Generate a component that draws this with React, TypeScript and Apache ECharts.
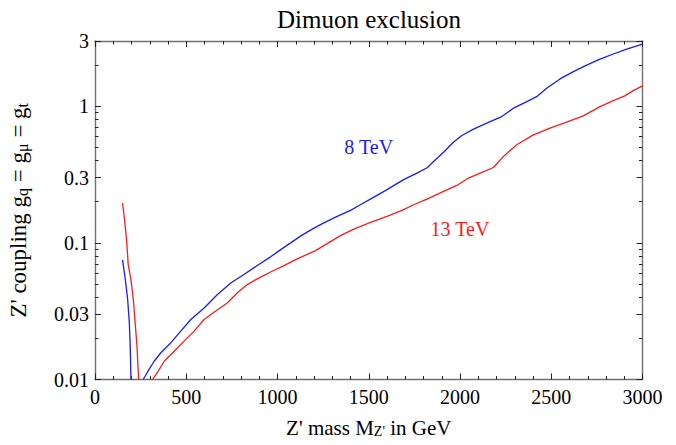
import React, { useEffect, useRef } from 'react';
import * as echarts from 'echarts';

// ---- data (Z' mass in GeV, coupling) ----
const xTickStep = 500;
const xMin = 0;
const xMax = 3000;
const yMin = 0.01;
const yMax = 3;
const yMajorTicks = [0.01, 0.03, 0.1, 0.3, 1, 3];
const yMajorLabels = ['0.01', '0.03', '0.1', '0.3', '1', '3'];
const yMinorTicks = [0.02, 0.04, 0.05, 0.06, 0.07, 0.08, 0.09, 0.2, 0.4, 0.5, 0.6, 0.7, 0.8, 0.9, 2];

const blue8Low: [number, number][] = [
  [151, 0.075], [166, 0.054], [179, 0.0385], [188, 0.026], [193, 0.0176], [197, 0.01],
];
const blue8High: [number, number][] = [
  [264, 0.01], [297, 0.0119], [324, 0.0136], [361, 0.0157], [416, 0.0186], [470, 0.0226],
  [525, 0.0275], [598, 0.0334], [671, 0.0419], [744, 0.0509], [816, 0.0586], [889, 0.0682],
  [962, 0.079], [1010, 0.0877], [1072, 0.1], [1126, 0.112], [1190, 0.126], [1254, 0.14],
  [1327, 0.156], [1400, 0.173], [1454, 0.19], [1509, 0.209], [1600, 0.245], [1691, 0.29],
  [1764, 0.324], [1822, 0.356], [1855, 0.394], [1910, 0.46], [1964, 0.545], [2010, 0.61],
  [2074, 0.68], [2165, 0.772], [2229, 0.84], [2293, 0.967], [2366, 1.081], [2420, 1.175],
  [2475, 1.354], [2548, 1.583], [2621, 1.79], [2694, 2.0], [2767, 2.21], [2840, 2.41],
  [2913, 2.62], [3000, 2.85],
];
const red13Low: [number, number][] = [
  [151, 0.196], [160, 0.156], [173, 0.1056], [182, 0.0693], [197, 0.0538], [210, 0.0385],
  [220, 0.026], [230, 0.0176], [239, 0.01],
];
const red13High: [number, number][] = [
  [315, 0.01], [343, 0.0113], [379, 0.0136], [434, 0.0161], [488, 0.0191], [543, 0.0226],
  [598, 0.0275], [652, 0.0311], [726, 0.0364], [780, 0.0431], [835, 0.0495], [889, 0.0545],
  [962, 0.0612], [1030, 0.0675], [1108, 0.0763], [1208, 0.0877], [1272, 0.0987], [1345, 0.113],
  [1418, 0.126], [1509, 0.141], [1600, 0.156], [1682, 0.173], [1746, 0.19], [1819, 0.209],
  [1910, 0.238], [1983, 0.263], [2046, 0.298], [2110, 0.324], [2183, 0.356], [2238, 0.429],
  [2311, 0.522], [2402, 0.617], [2493, 0.691], [2584, 0.764], [2675, 0.85], [2767, 0.993],
  [2840, 1.099], [2903, 1.19], [2949, 1.3], [3000, 1.407],
];
const label8: [number, number] = [1500, 0.5];
const label13: [number, number] = [2000, 0.127];

const FONT = 'Liberation Serif';
const BLUE = '#1a1aff';
const RED = '#ff1a1a';
const FRAME = '#707070';
const TICK = '#222222';

function yLabel(v: number): string {
  let best = 0;
  let bd = Infinity;
  yMajorTicks.forEach((t, i) => {
    const d = Math.abs(Math.log10(v) - Math.log10(t));
    if (d < bd) { bd = d; best = i; }
  });
  return yMajorLabels[best];
}

const xRich = {
  main: { fontSize: 21, fontFamily: FONT, color: '#000', lineHeight: 21 },
  sub: { fontSize: 14, fontFamily: FONT, color: '#000', verticalAlign: 'bottom', padding: [13, 0, 0, 0], lineHeight: 14 },
};
const yRich = {
  main: { fontSize: 23, fontFamily: FONT, color: '#000', lineHeight: 23 },
  sub: { fontSize: 16, fontFamily: FONT, color: '#000', verticalAlign: 'bottom', padding: [14, 0, 0, 0], lineHeight: 16 },
};

export default function App() {
  const ref = useRef<HTMLDivElement>(null);
  useEffect(() => {
    document.body.style.margin = '0';
    const chart = echarts.init(ref.current!, null, { renderer: 'svg' });

    const xBase = (pos: 'top' | 'bottom', showLabel: boolean) => ({
      type: 'value',
      position: pos,
      min: xMin,
      max: xMax,
      interval: xTickStep,
      splitLine: { show: false },
      axisLine: { show: true, onZero: false, lineStyle: { color: FRAME, width: 1.4 } },
      axisTick: { show: true, inside: true, length: 6, lineStyle: { color: TICK, width: 1 } },
      minorTick: { show: true, splitNumber: 5, length: 3.5, lineStyle: { color: TICK, width: 1 } },
      axisLabel: {
        show: showLabel, margin: 7, fontSize: 20, fontFamily: FONT, color: '#000',
        formatter: (v: number) => String(v),
      },
    });

    // frame ticks on the log scale: helper value axes running in log10 space
    const lo = Math.log10(yMin);
    const hi = Math.log10(yMax);
    const yTickAxis = (pos: 'left' | 'right', major: boolean) => ({
      type: 'value',
      position: pos,
      min: lo,
      max: hi,
      splitLine: { show: false },
      axisLine: { show: false },
      axisTick: {
        show: true,
        inside: true,
        length: major ? 6 : 3.5,
        customValues: (major ? yMajorTicks : yMinorTicks).map((v) => Math.log10(v)),
        lineStyle: { color: TICK, width: 1 },
      },
      minorTick: { show: false },
      axisLabel: { show: false },
    });

    const xName = "{main|Z' mass M}{sub|Z'}{main| in GeV}";
    const yName = "{main|Z' coupling g}{sub|q}{main| = g}{sub|μ}{main| = g}{sub|t}";

    const option: any = {
      animation: false,
      backgroundColor: '#fff',
      grid: { left: 95, right: 33.5, top: 41, bottom: 65.5, containLabel: false, outerBoundsMode: 'none' },
      graphic: [
        {
          type: 'text',
          x: 369,
          y: 19,
          style: {
            text: 'Dimuon exclusion',
            fontSize: 25,
            fontFamily: FONT,
            fill: '#000',
            textAlign: 'center',
            textVerticalAlign: 'middle',
          },
        },
      ],
      xAxis: [
        {
          ...xBase('bottom', true),
          name: xName,
          nameLocation: 'middle',
          nameGap: 37,
          nameTextStyle: { rich: xRich },
        },
        xBase('top', false),
      ],
      yAxis: [
        {
          type: 'log',
          position: 'left',
          min: yMin,
          max: yMax,
          logBase: 10,
          splitLine: { show: false },
          axisLine: { show: true, onZero: false, lineStyle: { color: FRAME, width: 1.4 } },
          axisTick: { show: false },
          minorTick: { show: false },
          axisLabel: {
            show: true,
            customValues: yMajorTicks,
            margin: 6,
            fontSize: 20,
            fontFamily: FONT,
            color: '#000',
            formatter: (v: number) => yLabel(v),
          },
          name: yName,
          nameLocation: 'middle',
          nameRotate: 90,
          nameGap: 65,
          nameTextStyle: { rich: yRich },
        },
        {
          type: 'log',
          position: 'right',
          min: yMin,
          max: yMax,
          logBase: 10,
          splitLine: { show: false },
          axisLine: { show: true, onZero: false, lineStyle: { color: FRAME, width: 1.4 } },
          axisTick: { show: false },
          minorTick: { show: false },
          axisLabel: { show: false },
        },
        yTickAxis('left', true),
        yTickAxis('left', false),
        yTickAxis('right', true),
        yTickAxis('right', false),
      ],
      series: [
        {
          type: 'line', name: '8 TeV low', data: blue8Low, showSymbol: false, clip: true,
          lineStyle: { color: BLUE, width: 1.3 }, itemStyle: { color: BLUE },
        },
        {
          type: 'line', name: '8 TeV', data: blue8High, showSymbol: false, clip: true,
          lineStyle: { color: BLUE, width: 1.3 }, itemStyle: { color: BLUE },
          markPoint: {
            symbol: 'circle', symbolSize: 1, itemStyle: { color: 'rgba(0,0,0,0)' },
            label: { show: true, position: 'inside', formatter: '8 TeV', fontSize: 20, fontFamily: FONT, color: BLUE },
            data: [{ coord: label8 }],
          },
        },
        {
          type: 'line', name: '13 TeV low', data: red13Low, showSymbol: false, clip: true,
          lineStyle: { color: RED, width: 1.3 }, itemStyle: { color: RED },
        },
        {
          type: 'line', name: '13 TeV', data: red13High, showSymbol: false, clip: true,
          lineStyle: { color: RED, width: 1.3 }, itemStyle: { color: RED },
          markPoint: {
            symbol: 'circle', symbolSize: 1, itemStyle: { color: 'rgba(0,0,0,0)' },
            label: { show: true, position: 'inside', formatter: '13 TeV', fontSize: 20, fontFamily: FONT, color: RED },
            data: [{ coord: label13 }],
          },
        },
      ],
    };
    chart.setOption(option);
    return () => chart.dispose();
  }, []);
  return <div ref={ref} style={{ width: 676, height: 445 }} />;
}
